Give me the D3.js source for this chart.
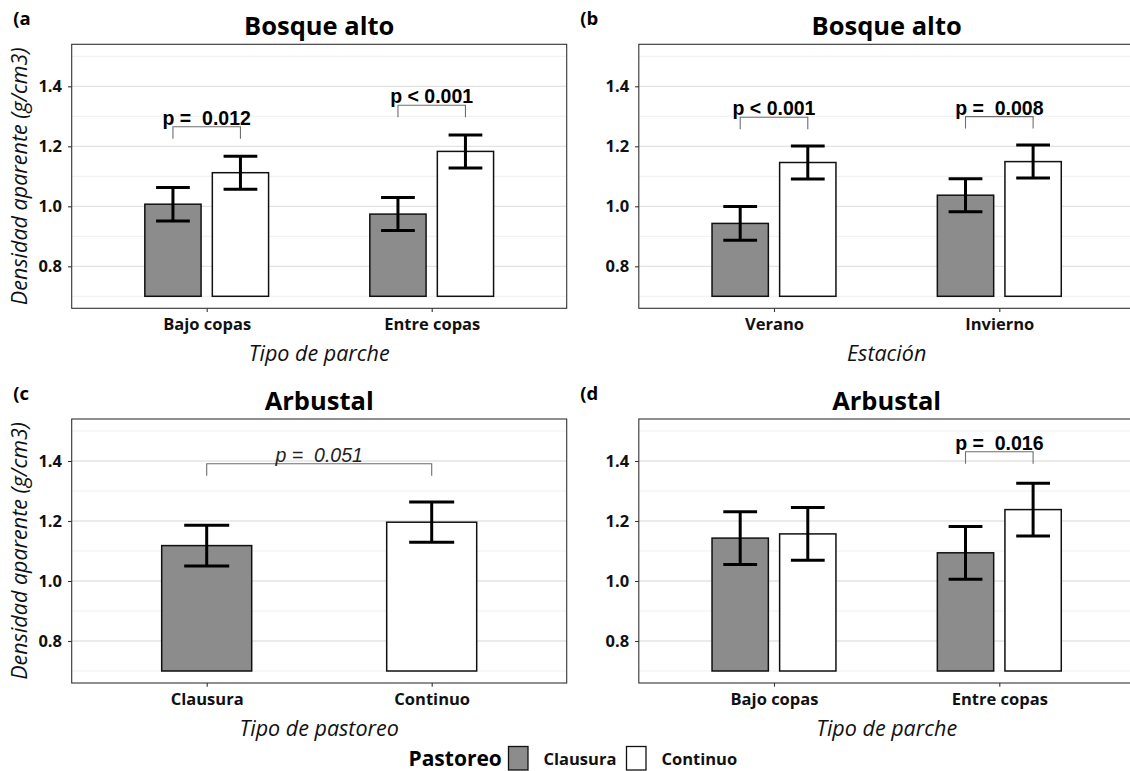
<!DOCTYPE html>
<html>
<head>
<meta charset="utf-8">
<script src="https://cdn.jsdelivr.net/npm/d3@7"></script>
<style>
  html, body { margin: 0; padding: 0; background: #fff; }
  svg { display: block; }
  text { white-space: pre; }
</style>
</head>
<body>
<svg id="chart" width="1130" height="771"></svg>
<script>
// ---- data -----------------------------------------------------------
const groups = ["Clausura", "Continuo"];
const fills = ["#8c8c8c", "#ffffff"];
const legendTitle = "Pastoreo";

// (a) Bosque alto, by patch type
const catsA = ["Bajo copas", "Entre copas"];
const clausuraA = [1.007, 0.974];
const clausuraErrA = [0.056, 0.055];
const continuoA = [1.112, 1.183];
const continuoErrA = [0.055, 0.055];
const sigA = [
  { from: 0, to: 0, y: 1.265, label: "p =  0.012" },
  { from: 1, to: 1, y: 1.337, label: "p < 0.001" }
];

// (b) Bosque alto, by season
const catsB = ["Verano", "Invierno"];
const clausuraB = [0.943, 1.037];
const clausuraErrB = [0.056, 0.055];
const continuoB = [1.146, 1.149];
const continuoErrB = [0.055, 0.055];
const sigB = [
  { from: 0, to: 0, y: 1.297, label: "p < 0.001" },
  { from: 1, to: 1, y: 1.299, label: "p =  0.008" }
];

// (c) Arbustal, by grazing type (one bar per grazing group)
const catsC = ["Clausura", "Continuo"];
const meansC = [1.118, 1.196];
const errC = [0.068, 0.067];
const sigC = [
  { from: 0, to: 1, y: 1.391, label: "p =  0.051", italic: true }
];

// (d) Arbustal, by patch type
const catsD = ["Bajo copas", "Entre copas"];
const clausuraD = [1.143, 1.094];
const clausuraErrD = [0.088, 0.088];
const continuoD = [1.157, 1.238];
const continuoErrD = [0.088, 0.088];
const sigD = [
  { from: 1, to: 1, y: 1.431, label: "p =  0.016" }
];

const yTicks = [0.8, 1.0, 1.2, 1.4];
const yMinor = [0.7, 0.9, 1.1, 1.3, 1.5];
const yDomain = [0.66, 1.54];
const barBase = 0.7;
const tipLength = 0.04;

// ---- drawing --------------------------------------------------------
const svg = d3.select("#chart");
const FONT = "'Open Sans', 'Noto Sans', sans-serif";
const SIGFONT = "'Liberation Sans', Arial, sans-serif";
const fillScale = d3.scaleOrdinal().domain(groups).range(fills);

function drawPanel(cfg) {
  const { left, right, top, bottom } = cfg.box;
  const g = svg.append("g");

  const x = d3.scalePoint().domain(cfg.cats).range([left, right]).padding(0.6);
  const step = x.step();
  const y = d3.scaleLinear().domain(yDomain).range([bottom, top]);

  const clipId = "clip-" + cfg.tag;
  svg.append("clipPath").attr("id", clipId)
    .append("rect").attr("x", left).attr("y", top)
    .attr("width", right - left).attr("height", bottom - top);
  const inner = g.append("g").attr("clip-path", `url(#${clipId})`);

  // grid
  inner.selectAll(".minor").data(yMinor).join("line")
    .attr("x1", left).attr("x2", right)
    .attr("y1", d => y(d)).attr("y2", d => y(d))
    .attr("stroke", "#ededed").attr("stroke-width", 0.9);
  inner.selectAll(".major").data(yTicks).join("line")
    .attr("x1", left).attr("x2", right)
    .attr("y1", d => y(d)).attr("y2", d => y(d))
    .attr("stroke", "#e3e3e3").attr("stroke-width", 1.3);

  // bars + error bars
  const bars = [];
  cfg.series.forEach(s => {
    s.values.forEach((v, i) => {
      bars.push({
        cx: x(cfg.cats[i]) + s.offset * step,
        w: s.width * step,
        ew: s.errWidth * step,
        v, e: s.errs[i], fill: fillScale(s.groupOf(i))
      });
    });
  });

  inner.selectAll(".bar").data(bars).join("rect")
    .attr("x", d => d.cx - d.w / 2)
    .attr("y", d => y(d.v))
    .attr("width", d => d.w)
    .attr("height", d => y(barBase) - y(d.v))
    .attr("fill", d => d.fill)
    .attr("stroke", "#111").attr("stroke-width", 1.5);

  const eb = inner.selectAll(".err").data(bars).join("g")
    .attr("stroke", "#000").attr("stroke-width", 3).attr("fill", "none");
  eb.append("line")
    .attr("x1", d => d.cx).attr("x2", d => d.cx)
    .attr("y1", d => y(d.v + d.e)).attr("y2", d => y(d.v - d.e));
  eb.append("line")
    .attr("x1", d => d.cx - d.ew / 2).attr("x2", d => d.cx + d.ew / 2)
    .attr("y1", d => y(d.v + d.e)).attr("y2", d => y(d.v + d.e));
  eb.append("line")
    .attr("x1", d => d.cx - d.ew / 2).attr("x2", d => d.cx + d.ew / 2)
    .attr("y1", d => y(d.v - d.e)).attr("y2", d => y(d.v - d.e));

  // significance brackets
  cfg.sig.forEach(s => {
    let x1, x2;
    if (s.from === s.to) {
      x1 = x(cfg.cats[s.from]) + cfg.series[0].offset * step;
      x2 = x(cfg.cats[s.to]) + cfg.series[1].offset * step;
    } else {
      x1 = x(cfg.cats[s.from]);
      x2 = x(cfg.cats[s.to]);
    }
    const path = d3.path();
    path.moveTo(x1, y(s.y - tipLength));
    path.lineTo(x1, y(s.y));
    path.lineTo(x2, y(s.y));
    path.lineTo(x2, y(s.y - tipLength));
    inner.append("path").attr("d", path.toString())
      .attr("fill", "none").attr("stroke", "#6e6e6e").attr("stroke-width", 1.1);
    inner.append("text")
      .attr("x", (x1 + x2) / 2).attr("y", y(s.y) - 2)
      .attr("text-anchor", "middle")
      .attr("font-family", SIGFONT)
      .attr("font-size", 19.5)
      .attr("font-weight", s.italic ? "normal" : "bold")
      .attr("font-style", s.italic ? "italic" : "normal")
      .attr("fill", s.italic ? "#222" : "#000")
      .text(s.label);
  });

  // panel border
  g.append("rect").attr("x", left).attr("y", top)
    .attr("width", right - left).attr("height", bottom - top)
    .attr("fill", "none").attr("stroke", "#333").attr("stroke-width", 1.1);

  // y axis
  const yAxis = d3.axisLeft(y).tickValues(yTicks).tickFormat(d3.format(".1f"))
    .tickSize(3.7).tickPadding(6);
  const ya = g.append("g").attr("transform", `translate(${left},0)`).call(yAxis);
  ya.select(".domain").remove();
  ya.selectAll(".tick line").attr("stroke", "#333").attr("stroke-width", 1.1);
  ya.selectAll(".tick text")
    .attr("font-family", FONT).attr("font-size", 16.5).attr("font-weight", "bold")
    .attr("fill", "#111");

  // x axis
  const xAxis = d3.axisBottom(x).tickSize(3.7).tickPadding(5);
  const xa = g.append("g").attr("transform", `translate(0,${bottom})`).call(xAxis);
  xa.select(".domain").remove();
  xa.selectAll(".tick line").attr("stroke", "#333").attr("stroke-width", 1.1);
  xa.selectAll(".tick text")
    .attr("font-family", FONT).attr("font-size", 16.5).attr("font-weight", "bold")
    .attr("fill", "#111").attr("dy", null).attr("y", 21.5);

  // titles
  const cx = (left + right) / 2;
  g.append("text").attr("x", cx).attr("y", top - 9)
    .attr("text-anchor", "middle").attr("font-family", FONT)
    .attr("font-size", 25.5).attr("font-weight", "bold").attr("fill", "#000")
    .text(cfg.title);
  g.append("text").attr("x", left - 58.5).attr("y", top - 19)
    .attr("font-family", FONT).attr("font-size", 18.5).attr("font-weight", "bold")
    .attr("fill", "#000").text(cfg.tagLabel);
  g.append("text").attr("x", cx).attr("y", bottom + 53)
    .attr("text-anchor", "middle").attr("font-family", FONT)
    .attr("font-size", 21.5).attr("font-style", "italic").attr("fill", "#111")
    .text(cfg.xTitle);
  if (cfg.yTitle) {
    g.append("text")
      .attr("transform", `translate(${left - 44.5},${(top + bottom) / 2}) rotate(-90)`)
      .attr("text-anchor", "middle").attr("font-family", FONT)
      .attr("font-size", 21.5).attr("font-style", "italic").attr("fill", "#111")
      .text(cfg.yTitle);
  }
}

function pairSeries(cl, clErr, co, coErr) {
  return [
    { values: cl, errs: clErr, groupOf: () => groups[0], offset: -0.15, width: 0.25, errWidth: 0.15 },
    { values: co, errs: coErr, groupOf: () => groups[1], offset: 0.15, width: 0.25, errWidth: 0.15 }
  ];
}

const leftCol = { left: 71.7, right: 566.7 };
const rightCol = { left: 638.8, right: 1134.5 };
const topRow = { top: 44.3, bottom: 308.3 };
const botRow = { top: 419, bottom: 683 };
const yTitle = "Densidad aparente (g/cm3)";

drawPanel({
  tag: "a", tagLabel: "(a", title: "Bosque alto", xTitle: "Tipo de parche", yTitle,
  box: { ...leftCol, ...topRow }, cats: catsA,
  series: pairSeries(clausuraA, clausuraErrA, continuoA, continuoErrA), sig: sigA
});
drawPanel({
  tag: "b", tagLabel: "(b", title: "Bosque alto", xTitle: "Estación", yTitle: null,
  box: { ...rightCol, ...topRow }, cats: catsB,
  series: pairSeries(clausuraB, clausuraErrB, continuoB, continuoErrB), sig: sigB
});
drawPanel({
  tag: "c", tagLabel: "(c", title: "Arbustal", xTitle: "Tipo de pastoreo", yTitle,
  box: { ...leftCol, ...botRow }, cats: catsC,
  series: [
    { values: meansC, errs: errC, groupOf: i => catsC[i], offset: 0, width: 0.4, errWidth: 0.2 }
  ],
  sig: sigC
});
drawPanel({
  tag: "d", tagLabel: "(d", title: "Arbustal", xTitle: "Tipo de parche", yTitle: null,
  box: { ...rightCol, ...botRow }, cats: catsD,
  series: pairSeries(clausuraD, clausuraErrD, continuoD, continuoErrD), sig: sigD
});

// ---- legend ---------------------------------------------------------
const legend = svg.append("g");
legend.append("text").attr("x", 408.5).attr("y", 766)
  .attr("font-family", FONT).attr("font-size", 21).attr("font-weight", "bold")
  .attr("fill", "#000").text(legendTitle);
const keyX = [508.5, 626.5];
const labelX = [543.5, 661.5];
groups.forEach((grp, i) => {
  legend.append("rect").attr("x", keyX[i]).attr("y", 746.5)
    .attr("width", 19.5).attr("height", 23.5)
    .attr("fill", fillScale(grp)).attr("stroke", "#111").attr("stroke-width", 1.3);
  legend.append("text").attr("x", labelX[i]).attr("y", 765)
    .attr("font-family", FONT).attr("font-size", 16.5).attr("font-weight", "bold")
    .attr("fill", "#111").text(grp);
});
</script>
</body>
</html>
